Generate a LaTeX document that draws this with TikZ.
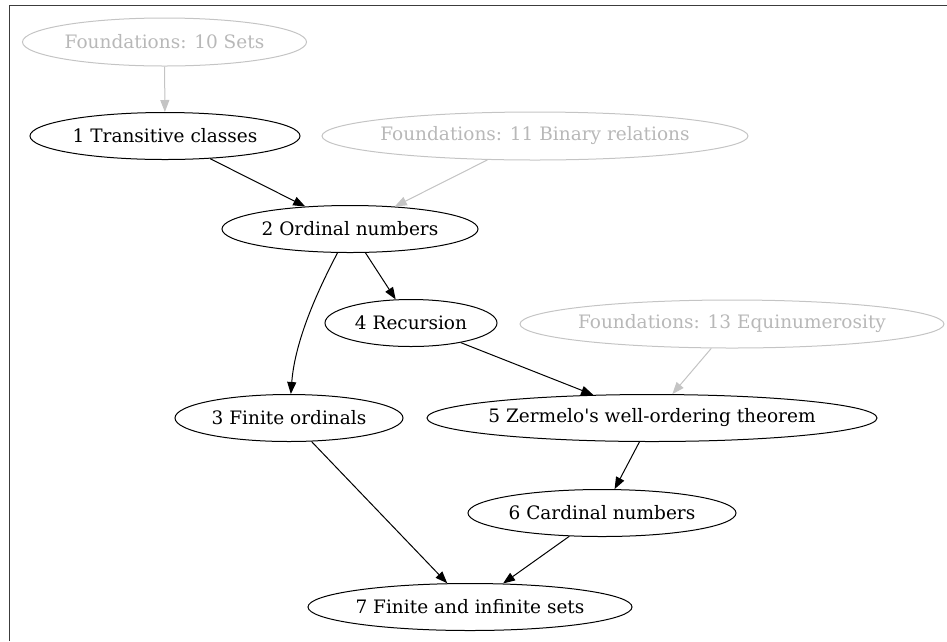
\documentclass[tikz,border=0pt]{standalone}
\usepackage{fontspec}
\setmainfont{DejaVu Serif}
\usepackage{xcolor}
\usetikzlibrary{arrows.meta,shapes.geometric}

\definecolor{faded}{RGB}{196,196,196}
\definecolor{fadedtext}{RGB}{184,184,184}
\definecolor{framegray}{RGB}{60,60,60}

\begin{document}
\begin{tikzpicture}[
    x=1pt, y=-1pt,
    font=\fontsize{18.5}{21}\selectfont,
    topic/.style={ellipse, draw, line width=1pt, inner xsep=-20pt, inner ysep=0pt},
    ext/.style={topic, draw=faded, text=fadedtext},
    dep/.style={draw, line width=1pt, -{Triangle[length=12pt,width=9pt]}},
    extdep/.style={dep, draw=faded, fill=faded},
    ]
\useasboundingbox (0,0) rectangle (947,641);
\draw[framegray, line width=1.8pt] (9.5,641) -- (9.5,5.5) -- (947,5.5);

% outside topics
\node[ext, minimum width=284pt, minimum height=48pt] (f10) at (164.5,42) {Foundations: 10 Sets};
\node[ext, minimum width=426pt, minimum height=48pt] (f11) at (535,136) {Foundations: 11 Binary relations};
\node[ext, minimum width=424pt, minimum height=48pt] (f13) at (732,324) {Foundations: 13 Equinumerosity};

% chapter topics
\node[topic, minimum width=270pt, minimum height=47pt] (n1) at (165,136) {1 Transitive classes};
\node[topic, minimum width=256pt, minimum height=47pt] (n2) at (350,229) {2 Ordinal numbers};
\node[topic, minimum width=172pt, minimum height=47pt] (n4) at (411,323) {4 Recursion};
\node[topic, minimum width=228pt, minimum height=47pt] (n3) at (289,418) {3 Finite ordinals};
\node[topic, minimum width=450pt, minimum height=47pt] (n5) at (652,418) {5 Zermelo\textquotesingle s well-ordering theorem};
\node[topic, minimum width=268pt, minimum height=47pt] (n6) at (602,513) {6 Cardinal numbers};
\node[topic, minimum width=324pt, minimum height=47pt] (n7) at (470,607) {7 Finite and infinite sets};

\draw[extdep] (f10) -- (n1);
\draw[extdep] (f11) -- (n2);
\draw[extdep] (f13) -- (n5);

\draw[dep] (n1) -- (n2);
\draw[dep] (n2) .. controls (318,290) and (295,340) .. (n3);
\draw[dep] (n2) -- (n4);
\draw[dep] (n4) -- (n5);
\draw[dep] (n5) -- (n6);
\draw[dep] (n3) -- (n7);
\draw[dep] (n6) -- (n7);
\end{tikzpicture}
\end{document}
